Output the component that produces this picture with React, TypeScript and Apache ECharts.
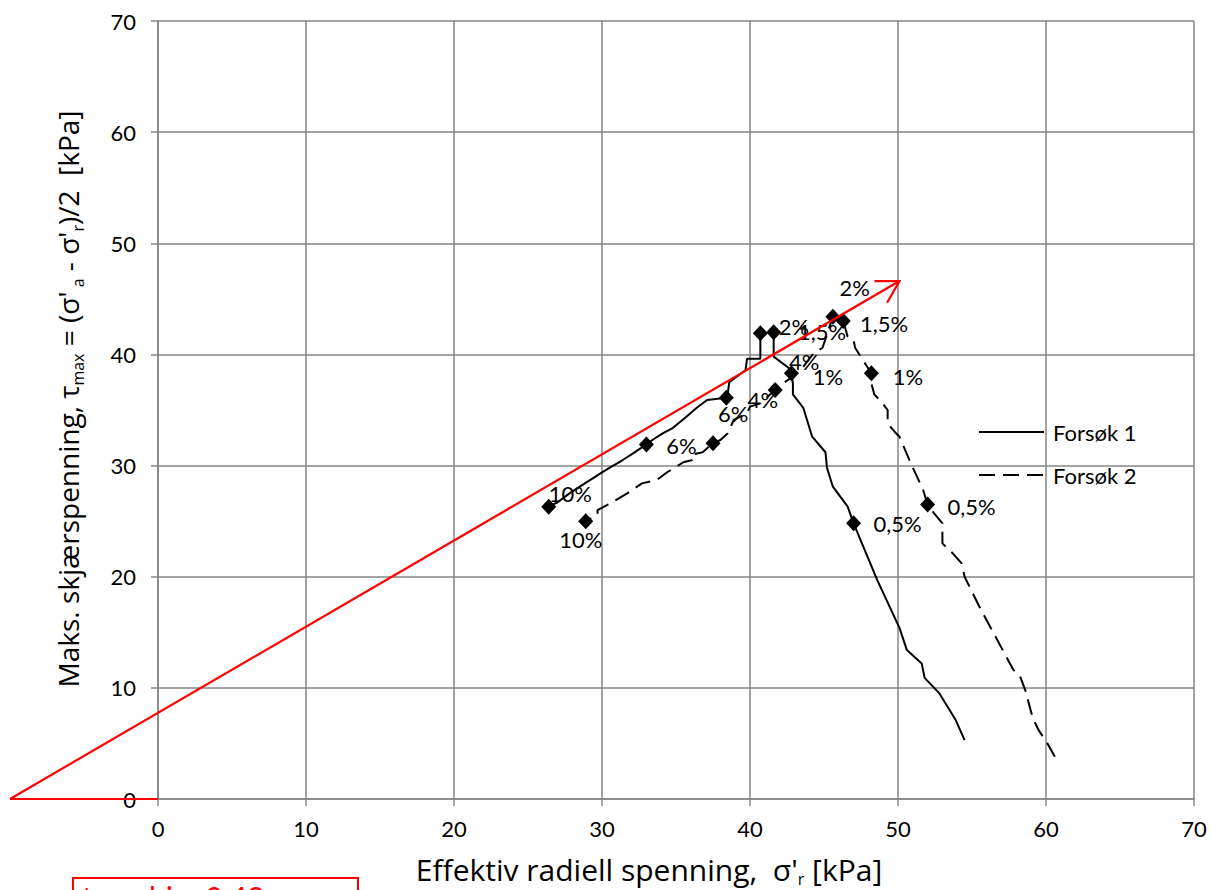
import React, { useEffect, useRef } from "react";
import * as echarts from "echarts";

// ---- Data ----
const xTickInterval = 10;
const yTickInterval = 10;

// Forsøk 1 (solid) – traced from start of test (bottom right) to 10 % strain
const forsok1: [number, number][] = [
  [54.5, 5.3], [53.9, 7.1], [52.8, 9.5], [51.8, 10.9], [51.6, 12.2], [50.6, 13.4], [50.1, 15.4],
  [48.6, 19.7], [47.0, 24.8], [46.6, 26.3], [45.6, 28.1], [45.2, 29.8], [45.1, 31.2], [44.2, 32.6],
  [43.9, 33.9], [43.6, 35.2], [42.9, 36.4], [42.9, 37.4], [42.8, 38.3], [42.6, 38.8], [41.6, 39.8],
  [41.6, 42.0], [40.7, 41.9], [40.7, 39.6], [39.8, 39.6], [39.7, 38.6], [38.6, 37.5], [38.5, 36.5],
  [38.4, 36.1], [37.1, 35.9], [36.4, 35.2], [35.7, 34.4], [34.8, 33.4], [34.1, 32.9], [33.4, 32.3],
  [33.0, 31.9], [32.1, 31.1], [31.4, 30.5], [30.5, 29.8], [29.9, 29.3], [28.5, 28.1], [27.8, 27.5],
  [27.0, 26.7], [26.4, 26.3],
];

// Forsøk 2 (dashed)
const forsok2: [number, number][] = [
  [60.6, 3.8], [60.1, 5.0], [59.5, 6.2], [59.1, 7.3], [58.6, 9.8], [58.2, 11.2], [57.8, 11.6],
  [55.5, 17.3], [54.5, 20.0], [54.3, 21.2], [53.7, 22.1], [53.0, 23.0], [53.0, 24.8], [52.5, 25.6],
  [52.0, 26.5], [51.7, 27.8], [50.9, 30.1], [50.1, 32.6], [49.8, 33.0], [49.3, 33.8], [49.3, 35.0],
  [48.9, 35.7], [48.4, 36.4], [48.2, 37.4], [48.2, 38.3], [47.1, 40.6], [47.0, 41.3], [46.6, 41.6],
  [46.3, 43.0], [45.6, 43.4], [44.9, 40.6], [44.3, 40.1], [43.6, 38.9], [42.9, 38.0], [41.9, 37.1],
  [41.7, 36.8], [40.7, 35.6], [40.0, 35.3], [39.8, 34.7], [38.9, 34.1], [38.5, 32.9], [38.0, 32.3],
  [37.5, 32.0], [36.8, 31.2], [36.1, 31.0], [36.1, 30.5], [35.5, 30.3], [34.4, 29.4], [33.7, 28.7],
  [32.7, 28.4], [31.7, 27.5], [30.7, 26.7], [29.7, 26.0], [29.7, 25.6], [28.9, 25.0],
];

// Strain markers
const markers1: [number, number][] = [
  [26.4, 26.3], [33.0, 31.9], [38.4, 36.1], [40.7, 41.9], [41.6, 42.0], [42.8, 38.3], [47.0, 24.8],
];
const markers2: [number, number][] = [
  [28.9, 25.0], [37.5, 32.0], [41.7, 36.8], [45.6, 43.4], [46.3, 43.0], [48.2, 38.3], [52.0, 26.5],
];

// Strain labels: [x, y, text]
const labels1: [number, number, string][] = [
  [27.9, 27.4, "10%"], [38.9, 34.6, "6%"], [43.7, 39.3, "4%"], [43.0, 42.5, "2%"],
  [44.9, 42.0, "1,5%"], [45.3, 38.0, "1%"], [50.0, 24.7, "0,5%"],
];
const labels2: [number, number, string][] = [
  [28.6, 23.3, "10%"], [35.4, 31.8, "6%"], [40.9, 35.9, "4%"], [47.1, 46.0, "2%"],
  [49.1, 42.7, "1,5%"], [50.7, 38.0, "1%"], [55.0, 26.3, "0,5%"],
];

// Failure line (red) with arrow, and base segment: [x1, y1, x2, y2, arrow]
const failureLines: [number, number, number, number, number][] = [
  [-10, 0, 50.1, 46.6, 1],
  [-10, 0, 0, 0, 0],
];

const FONT = "Lato";
const TITLE_FONT = "Open Sans";

export default function App() {
  const ref = useRef<HTMLDivElement>(null);

  useEffect(() => {
    if (!ref.current) return;
    const chart = echarts.init(ref.current, undefined, { renderer: "svg" });

    const labelSeries = (name: string, arr: [number, number, string][]) => ({
      name,
      type: "scatter",
      symbol: "circle",
      symbolSize: 1,
      silent: true,
      itemStyle: { color: "rgba(0,0,0,0)", opacity: 1 },
      label: {
        show: true,
        position: [0, 0],
        align: "center",
        verticalAlign: "middle",
        formatter: "{b}",
        fontFamily: FONT,
        fontSize: 22,
        color: "#000",
        opacity: 1,
      },
      emphasis: { disabled: true },
      z: 6,
      data: arr.map((d) => ({ name: d[2], value: [d[0], d[1]] })),
    });

    const subRich = {
      sub: { fontFamily: TITLE_FONT, fontSize: 16, lineHeight: 16, verticalAlign: "bottom", fill: "#000" },
    };

    const option: any = {
      animation: false,
      textStyle: { fontFamily: FONT },
      grid: { left: 158, top: 21, right: 17, bottom: 91, containLabel: false },
      xAxis: {
        type: "value",
        min: 0,
        max: 70,
        interval: xTickInterval,
        axisLine: { show: true, lineStyle: { color: "#868686", width: 1.5 } },
        axisTick: { show: true, length: 7, lineStyle: { color: "#868686", width: 1.5 } },
        splitLine: { show: true, lineStyle: { color: "#868686", width: 1.5 } },
        axisLabel: { fontFamily: FONT, fontSize: 22, color: "#000", margin: 18 },
      },
      yAxis: {
        type: "value",
        min: 0,
        max: 70,
        interval: yTickInterval,
        axisLine: { show: true, lineStyle: { color: "#868686", width: 1.5 } },
        axisTick: { show: true, length: 7, lineStyle: { color: "#868686", width: 1.5 } },
        splitLine: { show: true, lineStyle: { color: "#868686", width: 1.5 } },
        axisLabel: { fontFamily: FONT, fontSize: 22, color: "#000", margin: 22 },
      },
      legend: {
        orient: "vertical",
        left: 978,
        top: 421,
        padding: 0,
        itemWidth: 65,
        itemHeight: 14,
        itemGap: 21,
        itemStyle: { color: "rgba(0,0,0,0)", borderColor: "rgba(0,0,0,0)", borderWidth: 0 },
        textStyle: { fontFamily: FONT, fontSize: 22, color: "#000", padding: [0, 0, 0, 4] },
        data: ["Forsøk 1", "Forsøk 2"],
      },
      series: [
        {
          name: "Forsøk 1",
          type: "line",
          data: forsok1,
          symbol: "none",
          showSymbol: false,
          lineStyle: { color: "#000", width: 2, type: "solid" },
          itemStyle: { color: "#000" },
          z: 3,
        },
        {
          name: "Forsøk 2",
          type: "line",
          data: forsok2,
          symbol: "none",
          showSymbol: false,
          lineStyle: { color: "#000", width: 2, type: [16, 8] },
          itemStyle: { color: "#000" },
          z: 3,
        },
        {
          name: "m1",
          type: "scatter",
          symbol: "diamond",
          symbolSize: [15, 16],
          itemStyle: { color: "#000", opacity: 1 },
          data: markers1,
          z: 4,
        },
        {
          name: "m2",
          type: "scatter",
          symbol: "diamond",
          symbolSize: [15, 16],
          itemStyle: { color: "#000", opacity: 1 },
          data: markers2,
          z: 4,
        },
        labelSeries("l1", labels1),
        labelSeries("l2", labels2),
        {
          name: "failure",
          type: "custom",
          clip: false,
          silent: true,
          z: 7,
          data: failureLines,
          renderItem: (params: any, api: any) => {
            const p1 = api.coord([api.value(0), api.value(1)]);
            const p2 = api.coord([api.value(2), api.value(3)]);
            const children: any[] = [
              {
                type: "line",
                shape: { x1: p1[0], y1: p1[1], x2: p2[0], y2: p2[1] },
                style: { stroke: "#ff0000", lineWidth: 2.2 },
              },
            ];
            if (api.value(4)) {
              const ang = Math.atan2(p2[1] - p1[1], p2[0] - p1[0]);
              const L = 25;
              const a = Math.PI / 6;
              const b1 = [p2[0] - L * Math.cos(ang - a), p2[1] - L * Math.sin(ang - a)];
              const b2 = [p2[0] - L * Math.cos(ang + a), p2[1] - L * Math.sin(ang + a)];
              children.push({
                type: "polyline",
                shape: { points: [b1, p2, b2] },
                style: { stroke: "#ff0000", lineWidth: 2.2, fill: "none" },
              });
            }
            return { type: "group", children };
          },
        },
      ],
      graphic: [
        {
          type: "text",
          x: 68,
          y: 399,
          rotation: Math.PI / 2,
          style: {
            text: "Maks. skjærspenning, τ{sub|max} = (σ'{sub| a} - σ'{sub|r})/2  [kPa]",
            fontFamily: TITLE_FONT,
            fontSize: 28,
            fill: "#000",
            align: "center",
            verticalAlign: "middle",
            lineHeight: 36,
            rich: subRich,
          },
        },
        {
          type: "text",
          x: 649,
          y: 869,
          style: {
            text: "Effektiv radiell spenning,  σ'{sub|r} [kPa]",
            fontFamily: TITLE_FONT,
            fontSize: 30,
            fill: "#000",
            align: "center",
            verticalAlign: "middle",
            lineHeight: 36,
            rich: subRich,
          },
        },
        {
          type: "rect",
          shape: { x: 73, y: 878, width: 285, height: 40 },
          style: { stroke: "#ff0000", lineWidth: 2, fill: "#fff" },
        },
        {
          type: "text",
          x: 82,
          y: 882,
          style: {
            text: "tan phi = 0,49",
            fontFamily: FONT,
            fontSize: 30,
            fill: "#ff0000",
            align: "left",
            verticalAlign: "top",
          },
        },
      ],
    };

    chart.setOption(option);
    return () => chart.dispose();
  }, []);

  return (
    <div
      ref={ref}
      style={{ position: "absolute", left: 0, top: 0, width: 1211, height: 890 }}
    />
  );
}
